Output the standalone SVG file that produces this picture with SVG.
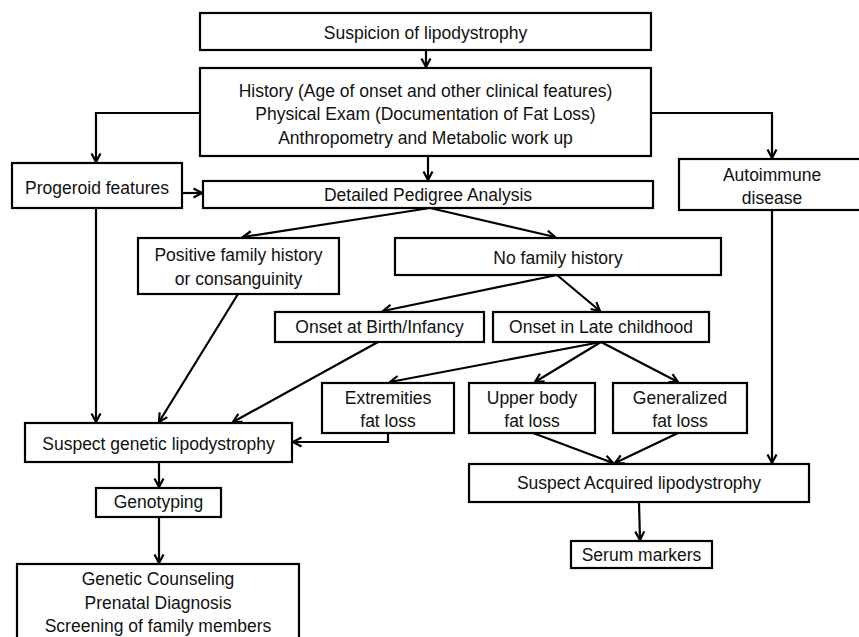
<svg xmlns="http://www.w3.org/2000/svg" width="859" height="637" viewBox="0 0 859 637">
<style>
.box{fill:#fff;stroke:#000;stroke-width:2.2}
.t{font-family:"Liberation Sans",Arial,sans-serif;font-size:17.5px;fill:#111;text-anchor:middle}
.c{fill:none;stroke:#000;stroke-width:2.2}
</style>
<defs>
<marker id="arr" viewBox="0 0 12 12" refX="10.5" refY="6" markerWidth="12" markerHeight="12" markerUnits="userSpaceOnUse" orient="auto">
<path d="M2,1.5 L10.5,6 L2,10.5" fill="none" stroke="#000" stroke-width="2.2"/>
</marker>
</defs>
<rect width="859" height="637" fill="#fff"/>
<g id="connectors">
<path class="c" d="M426,50 V67" marker-end="url(#arr)"/>
<path class="c" d="M200,113 H96 V162" marker-end="url(#arr)"/>
<path class="c" d="M651,113 H772 V158" marker-end="url(#arr)"/>
<path class="c" d="M428,156 V180" marker-end="url(#arr)"/>
<path class="c" d="M182,193 H202" marker-end="url(#arr)"/>
<path class="c" d="M96,208 V422" marker-end="url(#arr)"/>
<path class="c" d="M772,210 V463" marker-end="url(#arr)"/>
<path class="c" d="M430,208 L243,237" marker-end="url(#arr)"/>
<path class="c" d="M430,208 L555,237" marker-end="url(#arr)"/>
<path class="c" d="M557,275 L383,311" marker-end="url(#arr)"/>
<path class="c" d="M557,275 L600,311" marker-end="url(#arr)"/>
<path class="c" d="M238,294 L159,422" marker-end="url(#arr)"/>
<path class="c" d="M378,342 L233,422" marker-end="url(#arr)"/>
<path class="c" d="M601,342 L390,382" marker-end="url(#arr)"/>
<path class="c" d="M601,342 L535,382" marker-end="url(#arr)"/>
<path class="c" d="M601,342 L678,382" marker-end="url(#arr)"/>
<path class="c" d="M388,433 V442 H293" marker-end="url(#arr)"/>
<path class="c" d="M533,433 L613,463" marker-end="url(#arr)"/>
<path class="c" d="M678,433 L615,463" marker-end="url(#arr)"/>
<path class="c" d="M159,462 V487" marker-end="url(#arr)"/>
<path class="c" d="M159,517 V563" marker-end="url(#arr)"/>
<path class="c" d="M639,502 L640,540" marker-end="url(#arr)"/>
</g>
<g id="suspicion"><rect class="box" x="200" y="13" width="451" height="37"/><text class="t" x="425.5" y="38.5">Suspicion of lipodystrophy</text></g>
<g id="history"><rect class="box" x="200" y="68" width="451" height="88"/>
<text class="t" x="425.5" y="97">History (Age of onset and other clinical features)</text>
<text class="t" x="425.5" y="120">Physical Exam (Documentation of Fat Loss)</text>
<text class="t" x="425.5" y="143.5">Anthropometry and Metabolic work up</text></g>
<g id="progeroid"><rect class="box" x="12" y="163" width="170" height="45"/><text class="t" x="97" y="194">Progeroid features</text></g>
<g id="pedigree"><rect class="box" x="203" y="181" width="450" height="27"/><text class="t" x="428" y="201">Detailed Pedigree Analysis</text></g>
<g id="autoimmune"><rect class="box" x="679" y="159" width="186" height="51"/><text class="t" x="772" y="181">Autoimmune</text><text class="t" x="772" y="204">disease</text></g>
<g id="positive"><rect class="box" x="138" y="238" width="201" height="56"/><text class="t" x="238.5" y="261">Positive family history</text><text class="t" x="238.5" y="285">or consanguinity</text></g>
<g id="nofamily"><rect class="box" x="395" y="238" width="326" height="37"/><text class="t" x="558" y="264">No family history</text></g>
<g id="birth"><rect class="box" x="275" y="312" width="209" height="30"/><text class="t" x="379.5" y="333">Onset at Birth/Infancy</text></g>
<g id="late"><rect class="box" x="493" y="312" width="216" height="30"/><text class="t" x="601" y="333">Onset in Late childhood</text></g>
<g id="extremities"><rect class="box" x="322" y="383" width="132" height="50"/><text class="t" x="388" y="404">Extremities</text><text class="t" x="388" y="427">fat loss</text></g>
<g id="upper"><rect class="box" x="469" y="383" width="126" height="50"/><text class="t" x="532" y="404">Upper body</text><text class="t" x="532" y="427">fat loss</text></g>
<g id="generalized"><rect class="box" x="613" y="383" width="134" height="50"/><text class="t" x="680" y="404">Generalized</text><text class="t" x="680" y="427">fat loss</text></g>
<g id="genetic"><rect class="box" x="25" y="423" width="267" height="39"/><text class="t" x="158.5" y="450">Suspect genetic lipodystrophy</text></g>
<g id="genotyping"><rect class="box" x="96" y="488" width="125" height="29"/><text class="t" x="158.5" y="508">Genotyping</text></g>
<g id="counseling"><rect class="box" x="17" y="564" width="282" height="80"/>
<text class="t" x="158" y="585">Genetic Counseling</text>
<text class="t" x="158" y="609">Prenatal Diagnosis</text>
<text class="t" x="158" y="632">Screening of family members</text></g>
<g id="acquired"><rect class="box" x="469" y="464" width="340" height="38"/><text class="t" x="639" y="489">Suspect Acquired lipodystrophy</text></g>
<g id="serum"><rect class="box" x="571" y="541" width="141" height="27"/><text class="t" x="641.5" y="561">Serum markers</text></g>
</svg>
